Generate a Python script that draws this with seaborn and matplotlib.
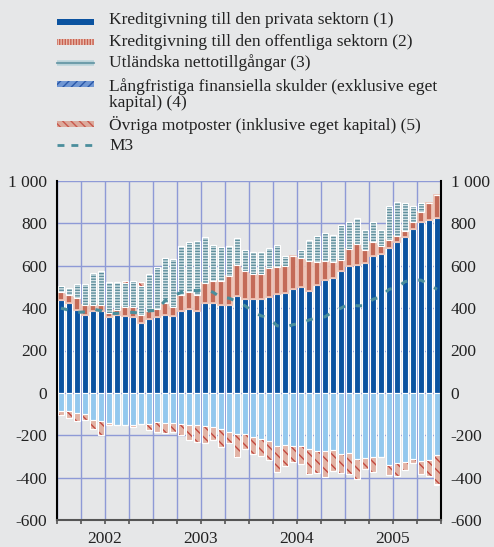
import numpy as np
import matplotlib
matplotlib.use("Agg")
import matplotlib.pyplot as plt
from matplotlib.patches import Rectangle
from matplotlib.lines import Line2D
import seaborn as sns

# månadsdata jan 2002 - dec 2005, miljarder kronor
years = ["2002", "2003", "2004", "2005"]
privat = [437, 425, 391, 369, 387, 387, 356, 369, 364, 359, 331, 347,
          359, 369, 362, 387, 397, 387, 422, 425, 413, 413, 456, 444,
          444, 441, 453, 469, 472, 491, 500, 482, 507, 532, 544, 573,
          598, 604, 613, 645, 657, 685, 711, 736, 773, 805, 817, 827]
offentlig = [37, 38, 59, 44, 29, 26, 19, 22, 39, 47, 38, 40,
             38, 53, 41, 73, 81, 76, 97, 104, 116, 138, 148, 132,
             119, 119, 138, 126, 129, 156, 138, 141, 113, 91, 76, 56,
             82, 97, 60, 69, 38, 35, 31, 28, 34, 47, 79, 106]
utland = [31, 34, 63, 100, 152, 163, 150, 134, 116, 123, 134, 173,
          198, 213, 229, 232, 233, 254, 219, 169, 160, 141, 129, 97,
          104, 104, 94, 103, 47, 0, 35, 100, 122, 132, 126, 163,
          125, 126, 94, 94, 72, 160, 160, 134, 76, 46, 0, -8]
langfristiga = [-86, -86, -97, -102, -128, -133, -141, -153, -153, -150, -148, -148,
                -138, -143, -140, -146, -152, -152, -158, -162, -169, -185, -193, -193,
                -209, -216, -227, -253, -248, -253, -253, -264, -275, -275, -271, -290,
                -284, -311, -306, -303, -303, -342, -331, -328, -312, -322, -318, -295]
ovriga = [-20, -34, -36, -26, -44, -67, -11, 0, 8, -11, 21, -29,
          -47, -47, -45, -55, -72, -80, -79, -62, -87, -52, -110, -71,
          -78, -84, -88, -120, -96, -75, -84, -117, -103, -122, -96, -88,
          -97, -95, -52, -72, 0, -44, -60, -37, -19, -59, -73, -133]
m3 = [400, 390, 380, 382, 395, 388, 375, 375, 380, 380, 375, 387,
      390, 435, 458, 474, 485, 482, 488, 475, 450, 447, 431, 411,
      384, 364, 353, 317, 309, 322, 328, 344, 356, 359, 384, 400,
      420, 411, 411, 442, 453, 489, 497, 525, 532, 532, 510, 489]
ytick_vals = [-600, -400, -200, 0, 200, 400, 600, 800, 1000]
ytick_labels = ["-600", "-400", "-200", "0", "200", "400", "600", "800", "1 000"]

legend_labels = ["Kreditgivning till den privata sektorn (1)",
                 "Kreditgivning till den offentliga sektorn (2)",
                 "Utländska nettotillgångar (3)",
                 "Långfristiga finansiella skulder (exklusive eget\nkapital) (4)",
                 "Övriga motposter (inklusive eget kapital) (5)",
                 "M3"]

bg = "#e6e7e8"
sns.set_style("white", {"axes.facecolor": bg, "figure.facecolor": bg})
plt.rcParams["font.family"] = ["Liberation Serif", "DejaVu Serif"]
plt.rcParams["hatch.linewidth"] = 1.0
fs = 12.5

fig = plt.figure(figsize=(4.94, 5.47), dpi=100)
ax = fig.add_axes([57 / 494, 1 - 520 / 547, 384 / 494, 339 / 547])

x = np.arange(len(privat))
w = 0.72

teal = ("#d3e2e6", "------", "#5f8f9c")
rosa = ("#e2b3a5", "\\\\\\", "#c2473d")


def stack(vals, base, face, hatch=None, hcol=None, edge="white", lw=0.8):
    vals = np.asarray(vals, float)
    if hatch:
        ax.bar(x, vals, w, bottom=base, color=face, edgecolor=hcol, hatch=hatch,
               linewidth=0, zorder=2)
        ax.bar(x, vals, w, bottom=base, fill=False, edgecolor=edge, linewidth=lw, zorder=2.1)
    else:
        ax.bar(x, vals, w, bottom=base, color=face, edgecolor=edge, linewidth=lw, zorder=2)
    return base + vals


pos = np.zeros(len(x))
neg = np.zeros(len(x))
utl = np.array(utland, float)
ovr = np.array(ovriga, float)

pos = stack(privat, pos, "#0b53a0")
pos = stack(offentlig, pos, "#c46b58", edge="#eec3b6", lw=1.3)
pos = stack(np.clip(utl, 0, None), pos, *teal)
pos = stack(np.clip(ovr, 0, None), pos, *rosa)
neg = stack(langfristiga, neg, "#93c8ee")
neg = stack(np.clip(ovr, None, 0), neg, *rosa)
neg = stack(np.clip(utl, None, 0), neg, *teal)

sns.lineplot(x=x, y=m3, ax=ax, color="#4a8e9c", lw=2.2, linestyle=(0, (2.2, 3.6)),
             zorder=3)

ax.set_xlim(-0.5, len(x) - 0.5)
ax.set_ylim(-600, 1000)
ax.set_yticks(ytick_vals)
ax.set_yticklabels(ytick_labels)
ax.xaxis.remove_overlapping_locs = False
ax.set_xticks(np.arange(-0.5, len(x), 3))
ax.set_xticklabels([])
ax.set_xticks([5.5, 17.5, 29.5, 41.5], minor=True)
ax.set_xticklabels(years, minor=True)
ax.set_axisbelow(True)
ax.grid(True, which="major", color="#8e9ad6", lw=1)
ax.tick_params(axis="y", length=0, labelsize=fs, labelright=True, pad=7,
               labelcolor="#222222")
ax.tick_params(axis="x", which="major", direction="out", length=3, width=1.2,
               color="#555555", bottom=True)
ax.tick_params(axis="x", which="minor", length=0, labelsize=fs, pad=8,
               labelbottom=True, labelcolor="#222222")
for s in ["left", "right"]:
    ax.spines[s].set_color("black")
    ax.spines[s].set_linewidth(1.5)
ax.spines["top"].set_visible(False)
ax.spines["bottom"].set_color("#555555")
ax.spines["bottom"].set_linewidth(1.5)

# legend drawn in figure pixels
H, W = 547, 494
hx0, hx1 = 57, 94
text_x = 109
handle_y = [22, 42, 63, 84, 124, 145]
text_y = [20, 42, 63, 94.5, 125, 146]
styles = [("#0b53a0", None, None), ("#e9bcae", "||||||", "#c8604f"),
          ("#c4d9de", None, None), ("#7097d4", "////", "#2a58a8"),
          ("#dcaa9c", "\\\\\\\\", "#c8584c")]
for i, lab in enumerate(legend_labels):
    yc = 1 - handle_y[i] / H
    if i < 5:
        face, hatch, hcol = styles[i]
        r = Rectangle((hx0 / W, yc - 3 / H), (hx1 - hx0) / W, 6 / H,
                      transform=fig.transFigure, facecolor=face,
                      edgecolor=hcol if hatch else face, hatch=hatch, linewidth=0)
        fig.add_artist(r)
        if i == 2:
            fig.add_artist(Line2D([hx0 / W, hx1 / W], [yc, yc], transform=fig.transFigure,
                                  color="#6e9daa", lw=1.6))
    else:
        fig.add_artist(Line2D([hx0 / W, hx1 / W], [yc, yc], transform=fig.transFigure,
                              color="#4a8e9c", lw=2, linestyle=(0, (2.5, 2.5))))
    fig.text(text_x / W, 1 - text_y[i] / H, lab, fontsize=fs, va="center",
             ha="left", color="#222222", linespacing=1.05)

fig.savefig("out.png", dpi=100, facecolor=bg)
